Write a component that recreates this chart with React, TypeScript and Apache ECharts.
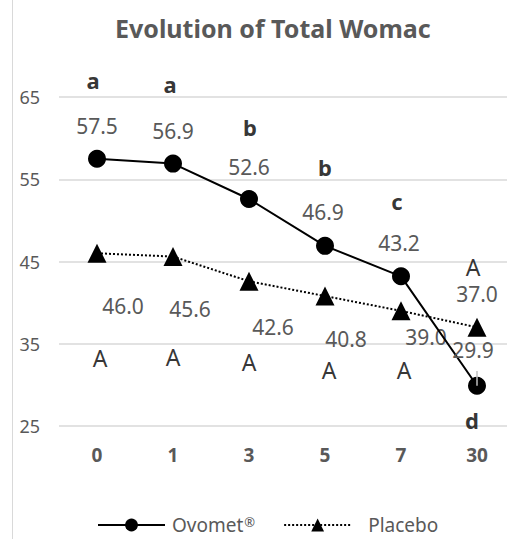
import React, { useEffect, useRef } from "react";
import * as echarts from "echarts";

// ---- data ----
const categories = ["0", "1", "3", "5", "7", "30"];
const ovometValues = [57.5, 56.9, 52.6, 46.9, 43.2, 29.9];
const placeboValues = [46.0, 45.6, 42.6, 40.8, 39.0, 37.0];
const ovometLetters = ["a", "a", "b", "b", "c", "d"];
const placeboLetters = ["A", "A", "A", "A", "A", "A"];
const yMin = 25;
const yMax = 65;
const yInterval = 10;

// ---- layout (label offsets in px, relative to each point) ----
const ovometValueOffsets = [[0, -33], [0, -33], [0, -32], [-2, -34], [-2, -33], [-4, -36]];
const placeboValueOffsets = [[26, 53], [17, 52], [24, 46], [21, 43], [25, 26], [0, -33]];
const ovometLetterOffsets = [[-4, -79], [-3, -80], [1, -72], [0, -79], [-4, -75], [-5, 34]];
const placeboLetterOffsets = [[3, 105], [0, 100], [0, 81], [4, 74], [3, 59], [-4, -60]];
const leaderIndex = 5;
const leaderLength = 1.8;

const FONT = "'Noto Sans', sans-serif";
const GRAY = "#595959";

export default function App() {
  const ref = useRef<HTMLDivElement>(null);

  useEffect(() => {
    if (!ref.current) return;
    const chart = echarts.init(ref.current, null, { renderer: "svg" });

    const valueLabel = (offset: number[]) => ({
      show: true,
      position: "inside",
      offset,
      color: GRAY,
      fontSize: 21,
      lineHeight: 18,
      fontFamily: FONT,
      formatter: (p: any) => Number(p.value).toFixed(1),
    });

    const option: any = {
      animation: false,
      backgroundColor: "#ffffff",
      textStyle: { fontFamily: FONT },
      title: {
        text: "Evolution of Total Womac",
        left: 110,
        top: 10,
        textStyle: { fontSize: 25, fontWeight: "bold", color: GRAY, fontFamily: FONT },
      },
      legend: {
        data: [
          { name: "Ovomet®" },
          { name: "Placebo", textStyle: { padding: [0, 0, 0, 12] } },
        ],
        left: 92,
        top: 510,
        itemWidth: 67,
        itemHeight: 16,
        itemGap: 28,
        formatter: (name: string) => (name === "Ovomet®" ? "Ovomet{sup|®}" : name),
        textStyle: {
          fontSize: 19,
          lineHeight: 20,
          color: GRAY,
          fontFamily: FONT,
          padding: [0, 0, 0, 2],
          rich: {
            sup: { fontSize: 13, lineHeight: 14, color: GRAY, fontFamily: FONT, padding: [0, 0, 6, 1] },
          },
        },
      },
      grid: { left: 59, top: 97, width: 456, height: 329, containLabel: false },
      xAxis: {
        type: "category",
        data: categories,
        boundaryGap: true,
        axisLine: { show: false },
        axisTick: { show: false },
        axisLabel: { color: GRAY, fontSize: 19, fontWeight: "bold", fontFamily: FONT, margin: 19 },
      },
      yAxis: {
        type: "value",
        min: yMin,
        max: yMax,
        interval: yInterval,
        axisLine: { show: false },
        axisTick: { show: false },
        axisLabel: { color: GRAY, fontSize: 18, fontFamily: FONT, margin: 19 },
        splitLine: { lineStyle: { color: "#d9d9d9", width: 1.5 } },
      },
      graphic: [
        {
          type: "line",
          shape: { x1: 12.5, y1: 0, x2: 12.5, y2: 539 },
          style: { stroke: "#d9d9d9", lineWidth: 1 },
          silent: true,
        },
      ],
      series: [
        {
          name: "Placebo",
          type: "line",
          z: 3,
          symbol: "triangle",
          symbolSize: 19,
          itemStyle: { color: "#000000" },
          lineStyle: { color: "#000000", width: 2, type: "dotted" },
          data: placeboValues.map((v, i) => ({ value: v, label: valueLabel(placeboValueOffsets[i]) })),
        },
        {
          name: "Ovomet®",
          type: "line",
          z: 4,
          symbol: "circle",
          symbolSize: 18,
          itemStyle: { color: "#000000" },
          lineStyle: { color: "#000000", width: 2, type: "solid" },
          data: ovometValues.map((v, i) => ({ value: v, label: valueLabel(ovometValueOffsets[i]) })),
          markLine: {
            silent: true,
            symbol: "none",
            label: { show: false },
            lineStyle: { color: "#bfbfbf", width: 1.5, type: "solid" },
            data: [
              [
                { coord: [categories[leaderIndex], ovometValues[leaderIndex]] },
                { coord: [categories[leaderIndex], ovometValues[leaderIndex] + leaderLength] },
              ],
            ],
          },
        },
        {
          name: "ovometLetters",
          type: "scatter",
          symbolSize: 0,
          silent: true,
          z: 5,
          data: ovometValues.map((v, i) => ({
            value: [categories[i], v],
            label: {
              show: true,
              position: "inside",
              offset: ovometLetterOffsets[i],
              formatter: ovometLetters[i],
              color: "#000000",
              fontSize: 22,
              fontWeight: "bold",
              fontFamily: FONT,
            },
          })),
        },
        {
          name: "placeboLetters",
          type: "scatter",
          symbolSize: 0,
          silent: true,
          z: 5,
          data: placeboValues.map((v, i) => ({
            value: [categories[i], v],
            label: {
              show: true,
              position: "inside",
              offset: placeboLetterOffsets[i],
              formatter: placeboLetters[i],
              color: "#000000",
              fontSize: 23,
              lineHeight: 18,
              fontFamily: FONT,
            },
          })),
        },
      ],
    };

    chart.setOption(option);
    return () => chart.dispose();
  }, []);

  return (
    <div
      style={{
        position: "absolute",
        left: 0,
        top: 0,
        width: 507,
        height: 539,
        overflow: "hidden",
        background: "#ffffff",
      }}
    >
      <div ref={ref} style={{ position: "absolute", left: 0, top: 0, width: 530, height: 539 }} />
    </div>
  );
}
